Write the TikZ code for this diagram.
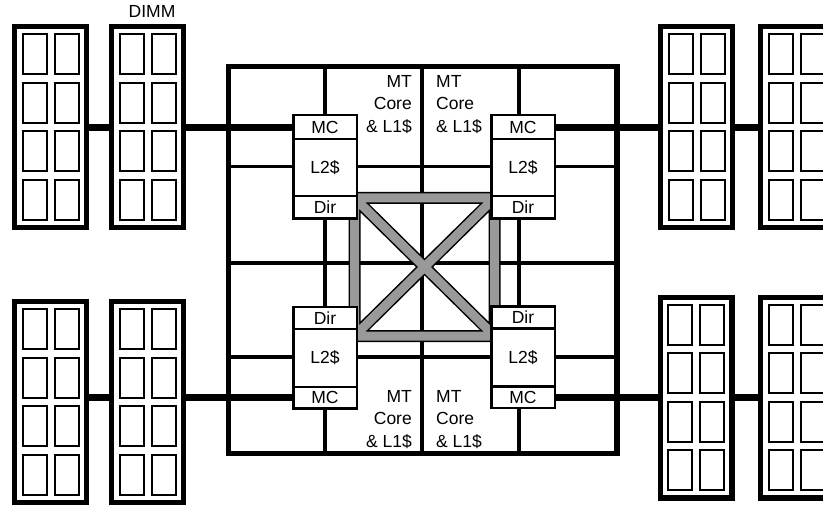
\documentclass[tikz,border=0pt]{standalone}
\usepackage{fontspec}
\setmainfont{Liberation Sans}
\usepackage{xcolor}
\definecolor{xbargray}{RGB}{153,153,153}
\usetikzlibrary{positioning}

\newcommand{\unitfont}{\fontsize{17.5}{22.4}\selectfont}

\tikzset{
  dimm/.style={draw=black, line width=5.3pt, minimum width=71.7pt, minimum height=200.7pt, inner sep=0pt, outer sep=0pt},
  dramchip/.style={draw=black, line width=2pt, minimum width=24pt, minimum height=40pt, inner sep=0pt, outer sep=0pt},
  chipedge/.style={draw=black, line width=5.5pt, minimum width=388.5pt, minimum height=387pt, inner sep=0pt, outer sep=0pt},
  gridline/.style={draw=black, line width=3.5pt},
  bus/.style={draw=black, line width=7pt},
  unit/.style={draw=black, fill=white, line width=2.5pt, minimum width=63.5pt, inner sep=0pt, outer sep=0pt, font=\unitfont},
  coretext/.style={inner sep=0pt, font=\unitfont},
  xbaredge/.style={draw=black, line width=12pt},
  xbarfill/.style={draw=xbargray, line width=9pt},
}

\begin{document}
\begin{tikzpicture}[x=1pt, y=-1pt]
  \useasboundingbox (0,0) rectangle (823,508);
  \clip (0,0) rectangle (823,508);

  % die outline and core grid
  \node[chipedge] (chip) at (422.75,260) {};
  \foreach \gx in {325,422,519}
    \draw[gridline] (\gx,66.5) -- (\gx,453.5);
  \foreach \gy in {166.7,263,357}
    \draw[gridline] (228.5,\gy) -- (617,\gy);

  % crossbar
  \coordinate (xbarTL) at (354.5,198);
  \coordinate (xbarTR) at (494.5,198);
  \coordinate (xbarBR) at (494.5,336);
  \coordinate (xbarBL) at (354.5,336);
  \draw[xbaredge] (xbarTL) -- (xbarTR) -- (xbarBR) -- (xbarBL) -- cycle
    (xbarTL) -- (xbarBR) (xbarTR) -- (xbarBL);
  \draw[xbarfill] (xbarTL) -- (xbarTR) -- (xbarBR) -- (xbarBL) -- cycle
    (xbarTL) -- (xbarBR) (xbarTR) -- (xbarBL);

  % L2 banks, top
  \node[unit, minimum height=23.75pt] (mcTL) at (325,127.1) {MC};
  \node[unit, minimum height=57pt, below=0pt of mcTL] (l2TL) {L2\$};
  \node[unit, minimum height=22.75pt, below=0pt of l2TL] (dirTL) {Dir};
  \node[unit, minimum height=23.75pt] (mcTR) at (523,127.1) {MC};
  \node[unit, minimum height=57pt, below=0pt of mcTR] (l2TR) {L2\$};
  \node[unit, minimum height=22.75pt, below=0pt of l2TR] (dirTR) {Dir};
  % L2 banks, bottom
  \node[unit, minimum height=21.75pt] (dirBL) at (325,318.1) {Dir};
  \node[unit, minimum height=58pt, below=0pt of dirBL] (l2BL) {L2\$};
  \node[unit, minimum height=21.75pt, below=0pt of l2BL] (mcBL) {MC};
  \node[unit, minimum height=21.75pt] (dirBR) at (523,317.6) {Dir};
  \node[unit, minimum height=58pt, below=0pt of dirBR] (l2BR) {L2\$};
  \node[unit, minimum height=21.75pt, below=0pt of l2BR] (mcBR) {MC};

  % cores
  \node[coretext, anchor=north east, align=right] (coreTLa) at (412,75) {MT\\Core\\\& L1\$};
  \node[coretext, anchor=north west, align=left] (coreTLb) at (436,75) {MT\\Core\\\& L1\$};
  \node[coretext, anchor=north east, align=right] (coreBLa) at (412,390) {MT\\Core\\\& L1\$};
  \node[coretext, anchor=north west, align=left] (coreBLb) at (436,390) {MT\\Core\\\& L1\$};

  % DIMMs
  \node[dimm] (dimmA) at (50.5,127) {};
  \node[dimm] (dimmB) at (147.5,127) {};
  \node[dimm] (dimmC) at (696.5,127) {};
  \node[dimm] (dimmD) at (796.5,127) {};
  \node[dimm] (dimmE) at (50.5,402) {};
  \node[dimm] (dimmF) at (147.5,402) {};
  \node[dimm] (dimmG) at (696,397.5) {};
  \node[dimm] (dimmH) at (796.5,397.5) {};
  \foreach \d in {dimmA,dimmB,dimmC,dimmD,dimmE,dimmF,dimmG,dimmH}
    \foreach \r/\dy in {1/-72.75,2/-24.25,3/24.25,4/72.75}
      \foreach \c/\dx in {1/-16,2/16}
        \node[dramchip] (\d-\r-\c) at ([shift={(\dx,\dy)}]\d.center) {};
  \node[coretext] (dimmLabel) at (152,11) {DIMM};

  % memory buses
  \draw[bus] (dimmA.east |- mcTL) -- (dimmB.west |- mcTL);
  \draw[bus] (dimmB.east |- mcTL) -- (mcTL.west);
  \draw[bus] (mcTR.east) -- (dimmC.west |- mcTR);
  \draw[bus] (dimmC.east |- mcTR) -- (dimmD.west |- mcTR);
  \draw[bus] (dimmE.east |- mcBL) -- (dimmF.west |- mcBL);
  \draw[bus] (dimmF.east |- mcBL) -- (mcBL.west);
  \draw[bus] (mcBR.east) -- (dimmG.west |- mcBR);
  \draw[bus] (dimmG.east |- mcBR) -- (dimmH.west |- mcBR);
\end{tikzpicture}
\end{document}
